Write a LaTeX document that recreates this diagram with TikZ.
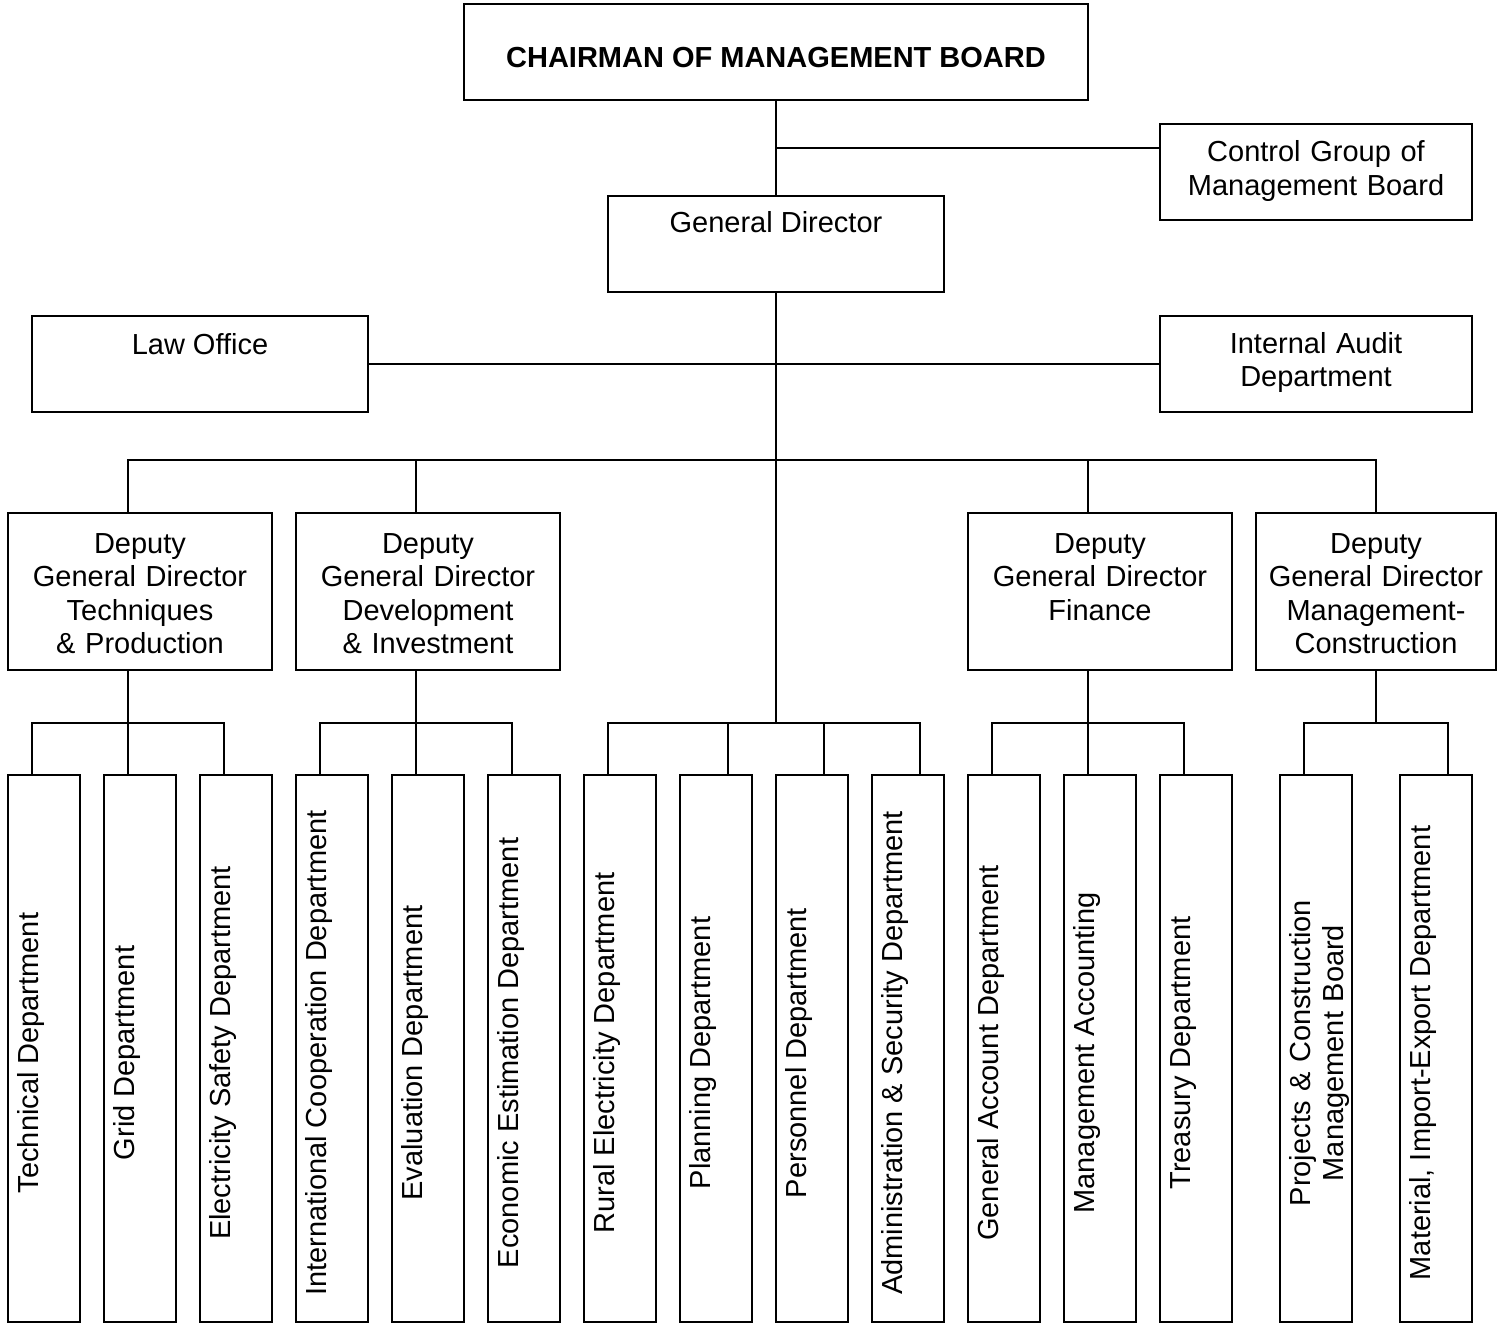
\documentclass[tikz,border=0pt]{standalone}
\usepackage{fontspec}
\setmainfont{Liberation Sans}
\begin{document}
\begin{tikzpicture}[x=1pt,y=-1pt,
  box/.style={draw, line width=1.5pt, rectangle, inner sep=0pt, outer sep=0pt},
  conn/.style={line width=1.5pt},
  lbl/.style={inner sep=0pt, font=\fontsize{29}{33.5}\selectfont, anchor=base},
  mlbl/.style={lbl, text width=#1, align=center},
  vlbl/.style={lbl, rotate=90},
  dept/.style={box, minimum width=72pt, minimum height=547pt}
]
\useasboundingbox (0,0) rectangle (1504,1324);

% top boxes
\node[box, minimum width=624pt, minimum height=96pt] (ch) at (776,52) {};
\node[box, minimum width=312pt, minimum height=96pt] (cg) at (1316,172) {};
\node[box, minimum width=336pt, minimum height=96pt] (gd) at (776,244) {};
\node[box, minimum width=336pt, minimum height=96pt] (law) at (200,364) {};
\node[box, minimum width=312pt, minimum height=96pt] (ia) at (1316,364) {};

% deputies
\node[box, minimum width=264pt, minimum height=157pt] (d1) at (140,591.5) {};
\node[box, minimum width=264pt, minimum height=157pt] (d2) at (428,591.5) {};
\node[box, minimum width=264pt, minimum height=157pt] (d3) at (1100,591.5) {};
\node[box, minimum width=240pt, minimum height=157pt] (d4) at (1376,591.5) {};

% departments
\node[dept] (t1) at (44,1048.5) {};
\node[dept] (t2) at (140,1048.5) {};
\node[dept] (t3) at (236,1048.5) {};
\node[dept] (t4) at (332,1048.5) {};
\node[dept] (t5) at (428,1048.5) {};
\node[dept] (t6) at (524,1048.5) {};
\node[dept] (t7) at (620,1048.5) {};
\node[dept] (t8) at (716,1048.5) {};
\node[dept] (t9) at (812,1048.5) {};
\node[dept] (t10) at (908,1048.5) {};
\node[dept] (t11) at (1004,1048.5) {};
\node[dept] (t12) at (1100,1048.5) {};
\node[dept] (t13) at (1196,1048.5) {};
\node[dept] (t14) at (1316,1048.5) {};
\node[dept] (t15) at (1436,1048.5) {};

% texts
\node[lbl, font={\fontsize{29}{33.5}\selectfont\bfseries}] (ch-t) at (776,68) {CHAIRMAN OF MANAGEMENT BOARD};
\node[mlbl=330pt] (cg-t) at (1316,162) {Control Group of\\Management Board};
\node[lbl] (gd-t) at (776,233) {General Director};
\node[lbl] (law-t) at (200,354) {Law Office};
\node[mlbl=330pt] (ia-t) at (1316,353) {Internal Audit\\Department};
\node[mlbl=260pt] (d1-t) at (140,553) {Deputy\\General Director\\Techniques\\\& Production};
\node[mlbl=260pt] (d2-t) at (428,553) {Deputy\\General Director\\Development\\\& Investment};
\node[mlbl=260pt] (d3-t) at (1100,553) {Deputy\\General Director\\Finance};
\node[mlbl=240pt] (d4-t) at (1376,553) {Deputy\\General Director\\Management-\\Construction};

\node[vlbl] (t1-t) at (38,1053) {Technical Department};
\node[vlbl] (t2-t) at (134,1053) {Grid Department};
\node[vlbl] (t3-t) at (230,1053) {Electricity Safety Department};
\node[vlbl] (t4-t) at (326,1053) {International Cooperation Department};
\node[vlbl] (t5-t) at (422,1053) {Evaluation Department};
\node[vlbl] (t6-t) at (518,1053) {Economic Estimation Department};
\node[vlbl] (t7-t) at (614,1053) {Rural Electricity Department};
\node[vlbl] (t8-t) at (710,1053) {Planning Department};
\node[vlbl] (t9-t) at (806,1053) {Personnel Department};
\node[vlbl] (t10-t) at (902,1053) {Administration \& Security Department};
\node[vlbl] (t11-t) at (998,1053) {General Account Department};
\node[vlbl] (t12-t) at (1094,1053) {Management Accounting};
\node[vlbl] (t13-t) at (1190,1053) {Treasury Department};
\node[vlbl, text width=420pt, align=center] (t14-t) at (1310,1053) {Projects \& Construction\\Management Board};
\node[vlbl] (t15-t) at (1430,1053) {Material, Import-Export Department};

% connectors: top
\draw[conn] (ch.south) -- (gd.north);
\coordinate (cgj) at (776,148);
\draw[conn] (cgj) -- (cgj -| cg.west);
\draw[conn] (law.east) -- (ia.west);
\coordinate (g3) at (776,723);
\draw[conn] (gd.south) -- (g3);

% bus to deputies
\coordinate (b1) at (128,460);
\coordinate (b2) at (416,460);
\coordinate (b3) at (1088,460);
\coordinate (b4) at (1376,460);
\draw[conn] (b1 |- d1.north) -- (b1) -- (b4) -- (b4 |- d4.north);
\draw[conn] (b2) -- (b2 |- d2.north);
\draw[conn] (b3) -- (b3 |- d3.north);

% group 1
\coordinate (k1) at (128,723);
\coordinate (j1) at (32,723);
\coordinate (j3) at (224,723);
\draw[conn] (k1 |- d1.south) -- (k1);
\draw[conn] (j1 |- t1.north) -- (j1) -- (j3) -- (j3 |- t3.north);
\draw[conn] (k1) -- (k1 |- t2.north);

% group 2
\coordinate (k2) at (416,723);
\coordinate (j4) at (320,723);
\coordinate (j6) at (512,723);
\draw[conn] (k2 |- d2.south) -- (k2);
\draw[conn] (j4 |- t4.north) -- (j4) -- (j6) -- (j6 |- t6.north);
\draw[conn] (k2) -- (k2 |- t5.north);

% group 3
\coordinate (j7) at (608,723);
\coordinate (j8) at (728,723);
\coordinate (j9) at (824,723);
\coordinate (j10) at (920,723);
\draw[conn] (j7 |- t7.north) -- (j7) -- (j10) -- (j10 |- t10.north);
\draw[conn] (j8) -- (j8 |- t8.north);
\draw[conn] (j9) -- (j9 |- t9.north);

% group 4
\coordinate (k4) at (1088,723);
\coordinate (j11) at (992,723);
\coordinate (j13) at (1184,723);
\draw[conn] (k4 |- d3.south) -- (k4);
\draw[conn] (j11 |- t11.north) -- (j11) -- (j13) -- (j13 |- t13.north);
\draw[conn] (k4) -- (k4 |- t12.north);

% group 5
\coordinate (k5) at (1376,723);
\coordinate (j14) at (1304,723);
\coordinate (j15) at (1448,723);
\draw[conn] (k5 |- d4.south) -- (k5);
\draw[conn] (j14 |- t14.north) -- (j14) -- (j15) -- (j15 |- t15.north);
\end{tikzpicture}
\end{document}
